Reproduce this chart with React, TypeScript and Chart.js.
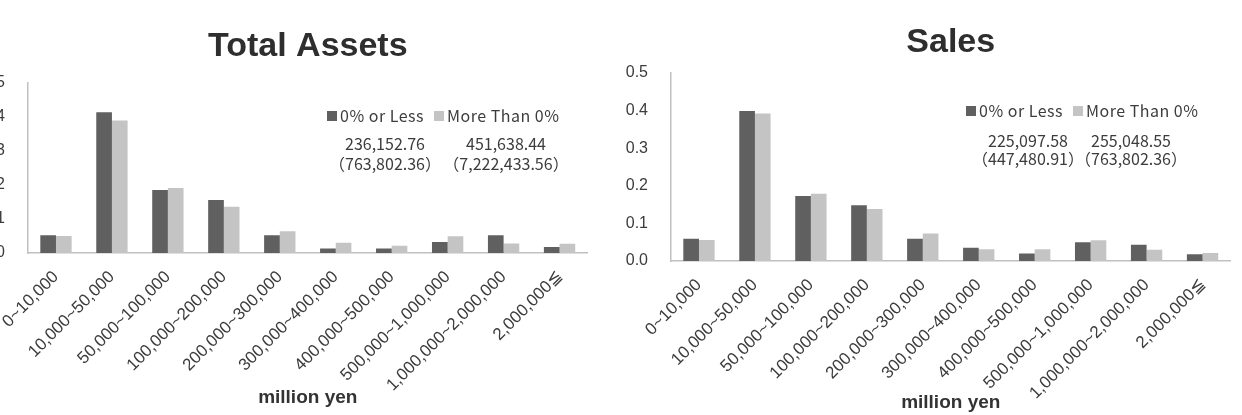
import React, { useEffect, useRef } from 'react';
import { Chart, registerables } from 'chart.js';

Chart.register(...registerables);

// ---------- data ----------
const categories = [
  '0~10,000',
  '10,000~50,000',
  '50,000~100,000',
  '100,000~200,000',
  '200,000~300,000',
  '300,000~400,000',
  '400,000~500,000',
  '500,000~1,000,000',
  '1,000,000~2,000,000',
  '2,000,000≦',
];
const seriesLabels = ['0% or Less', 'More Than 0%'];

const assetsLess = [0.052, 0.414, 0.185, 0.156, 0.052, 0.013, 0.013, 0.032, 0.052, 0.018];
const assetsMore = [0.05, 0.39, 0.191, 0.136, 0.064, 0.03, 0.021, 0.049, 0.028, 0.027];
const salesLess = [0.059, 0.399, 0.173, 0.148, 0.059, 0.035, 0.02, 0.05, 0.043, 0.018];
const salesMore = [0.056, 0.392, 0.179, 0.138, 0.073, 0.031, 0.031, 0.055, 0.03, 0.021];

const assetsNotes = [
  ['236,152.76', '（763,802.36）'],
  ['451,638.44', '（7,222,433.56）'],
];
const salesNotes = [
  ['225,097.58', '（447,480.91）'],
  ['255,048.55', '（763,802.36）'],
];

const yTickValues = [0, 0.1, 0.2, 0.3, 0.4, 0.5];
const xAxisTitle = 'million yen';

// ---------- styles ----------
const DARK = '#606060';
const LIGHT = '#c4c4c4';
const AXIS = '#c0c0c0';
const TEXT = '#3c3c3c';
const SANS = "'Liberation Sans', Arial, sans-serif";
const JP = "'Noto Sans CJK JP', 'Noto Sans', sans-serif";

type Panel = {
  title: string;
  less: number[];
  more: number[];
  notes: string[][];
  left: number;
  width: number;
  titlePad: { top: number; bottom: number };
  xHeight: number;
  xTitleBottom: number;
  legendX: number;
  legendY: number;
  noteX: number[];
  noteY: number[];
};

const panels: Panel[] = [
  {
    title: 'Total Assets',
    less: assetsLess,
    more: assetsMore,
    notes: assetsNotes,
    left: -20,
    width: 608,
    titlePad: { top: 26.6, bottom: 15.6 },
    xHeight: 162,
    xTitleBottom: 6,
    legendX: 299,
    legendY: 33,
    noteX: [357, 478],
    noteY: [61, 81],
  },
  {
    title: 'Sales',
    less: salesLess,
    more: salesMore,
    notes: salesNotes,
    left: 623,
    width: 608,
    titlePad: { top: 22.6, bottom: 9.6 },
    xHeight: 154,
    xTitleBottom: 1,
    legendX: 295,
    legendY: 38,
    noteX: [357, 460],
    noteY: [68, 86],
  },
];

function makeOverlay(p: Panel) {
  return {
    id: 'overlay',
    afterDatasetsDraw(chart: any) {
      const { ctx, chartArea } = chart;
      ctx.save();
      ctx.textBaseline = 'middle';
      ctx.font = `16px ${JP}`;
      try {
        (ctx as any).letterSpacing = '0.5px';
      } catch (e) {}
      let x = chartArea.left + p.legendX;
      const y = chartArea.top + p.legendY;
      const box = 10;
      chart.data.datasets.forEach((ds: any) => {
        ctx.fillStyle = ds.backgroundColor;
        ctx.fillRect(x, y - box / 2, box, box);
        x += box + 3;
        ctx.fillStyle = TEXT;
        ctx.textAlign = 'left';
        ctx.fillText(ds.label, x, y);
        x += ctx.measureText(ds.label).width + 10;
      });
      try {
        (ctx as any).letterSpacing = '0px';
      } catch (e) {}
      ctx.font = `16px ${JP}`;
      ctx.textAlign = 'center';
      ctx.fillStyle = TEXT;
      p.notes.forEach((col, ci) => {
        col.forEach((line, li) => {
          ctx.fillText(line, chartArea.left + p.noteX[ci], chartArea.top + p.noteY[li]);
        });
      });
      ctx.restore();
    },
  };
}

function BarPanel({ p }: { p: Panel }) {
  const ref = useRef<HTMLCanvasElement | null>(null);
  useEffect(() => {
    if (!ref.current) return;
    const chart = new Chart(ref.current, {
      type: 'bar',
      data: {
        labels: categories,
        datasets: [
          { label: seriesLabels[0], data: p.less, backgroundColor: DARK, borderWidth: 0 },
          { label: seriesLabels[1], data: p.more, backgroundColor: LIGHT, borderWidth: 0 },
        ],
      },
      options: {
        responsive: false,
        animation: false,
        events: [],
        layout: { padding: 0 },
        datasets: { bar: { categoryPercentage: 0.56, barPercentage: 1 } },
        plugins: {
          legend: { display: false },
          tooltip: { enabled: false },
          title: {
            display: true,
            text: p.title,
            fullSize: false,
            color: '#2e2e2e',
            font: { family: SANS, size: 34, weight: 'bold', lineHeight: 1.2 },
            padding: p.titlePad,
          },
        },
        scales: {
          x: {
            grid: { display: false, drawTicks: false },
            border: { display: true, color: AXIS, width: 1.5 },
            ticks: {
              autoSkip: false,
              maxRotation: 45,
              minRotation: 45,
              padding: 14,
              color: TEXT,
              font: { family: SANS, size: 17 },
            },
            title: {
              display: true,
              text: xAxisTitle,
              color: '#333',
              font: { family: SANS, size: 19, weight: 'bold', lineHeight: 1.2 },
              padding: { top: 0, bottom: p.xTitleBottom },
            },
            afterFit: (s: any) => {
              s.height = p.xHeight;
            },
          },
          y: {
            min: 0,
            max: 0.5,
            grid: { display: false, drawTicks: false },
            border: { display: true, color: AXIS, width: 1.5 },
            afterBuildTicks: (s: any) => {
              s.ticks = yTickValues.map((v) => ({ value: v }));
            },
            ticks: {
              padding: 23,
              color: TEXT,
              font: { family: SANS, size: 16 },
              callback: (v: any) => Number(v).toFixed(1),
            },
            afterFit: (s: any) => {
              s.width = 48;
            },
          },
        },
      },
      plugins: [makeOverlay(p)],
    } as any);
    return () => chart.destroy();
  }, [p]);
  return (
    <div style={{ position: 'absolute', left: p.left, top: 0, width: p.width, height: 415 }}>
      <canvas ref={ref} width={p.width} height={415} style={{ display: 'block' }} />
    </div>
  );
}

export default function App() {
  return (
    <div
      style={{
        position: 'fixed',
        left: 0,
        top: 0,
        width: 1242,
        height: 415,
        overflow: 'hidden',
        background: '#ffffff',
      }}
    >
      {panels.map((p) => (
        <BarPanel key={p.title} p={p} />
      ))}
    </div>
  );
}
